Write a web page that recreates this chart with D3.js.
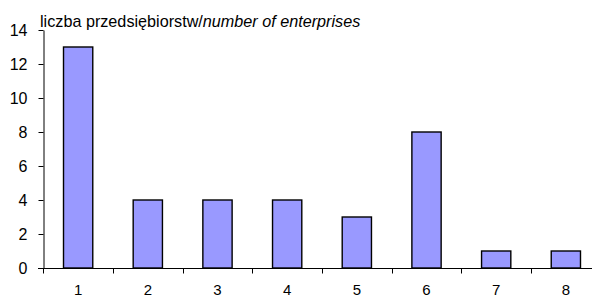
<!DOCTYPE html>
<html><head><meta charset="utf-8">
<script src="https://cdn.jsdelivr.net/npm/d3@7"></script>
<style>body{margin:0;background:#fff}svg{display:block}</style>
</head><body>
<svg id="c" width="592" height="298"></svg>
<script>
const categories = ["1","2","3","4","5","6","7","8"];
const values = [13,4,4,4,3,8,1,1];
const yTicks = [0,2,4,6,8,10,12,14];

const svg = d3.select("#c");
const font = "Liberation Sans, Arial, sans-serif";
const x = d3.scaleBand().domain(categories).range([43.3, 600.7]).paddingInner(0).paddingOuter(0);
const y = d3.scaleLinear().domain([0,14]).range([268, 30]);

// bars
const bw = x.bandwidth()*0.42;
svg.selectAll("rect.bar").data(values).enter().append("rect")
  .attr("x",(d,i)=>x(categories[i])+x.bandwidth()/2-bw/2)
  .attr("y",d=>y(d))
  .attr("width",bw)
  .attr("height",d=>y(0)-y(d))
  .attr("fill","#9999ff").attr("stroke","#000").attr("stroke-width",1.4);

// y axis
const ya = svg.append("g").attr("transform","translate(43.5,0)")
  .call(d3.axisLeft(y).tickValues(yTicks).tickSize(5).tickSizeOuter(0));
ya.select(".domain").attr("stroke","#000");
ya.selectAll("text").attr("font-family",font).attr("font-size",16).attr("fill","#000").attr("x",-16);

// x axis
const xa = svg.append("g").attr("transform","translate(0,268.5)");
xa.append("line").attr("x1",38).attr("x2",592).attr("stroke","#000");
const bounds = categories.map(c=>x(c)).concat([x.range()[1]]);
xa.selectAll("line.tk").data(bounds).enter().append("line")
  .attr("x1",d=>Math.round(d)+0.5).attr("x2",d=>Math.round(d)+0.5).attr("y1",0).attr("y2",5).attr("stroke","#000");
xa.selectAll("text").data(categories).enter().append("text")
  .attr("x",d=>x(d)+x.bandwidth()/2).attr("y",26).attr("text-anchor","middle")
  .attr("font-family",font).attr("font-size",15).text(d=>d);

// title label
const t = svg.append("text").attr("x",40).attr("y",27).attr("font-family",font).attr("font-size",16.2);
t.append("tspan").text("liczba przedsiębiorstw/");
t.append("tspan").attr("font-style","italic").text("number of enterprises");
</script>
</body></html>
